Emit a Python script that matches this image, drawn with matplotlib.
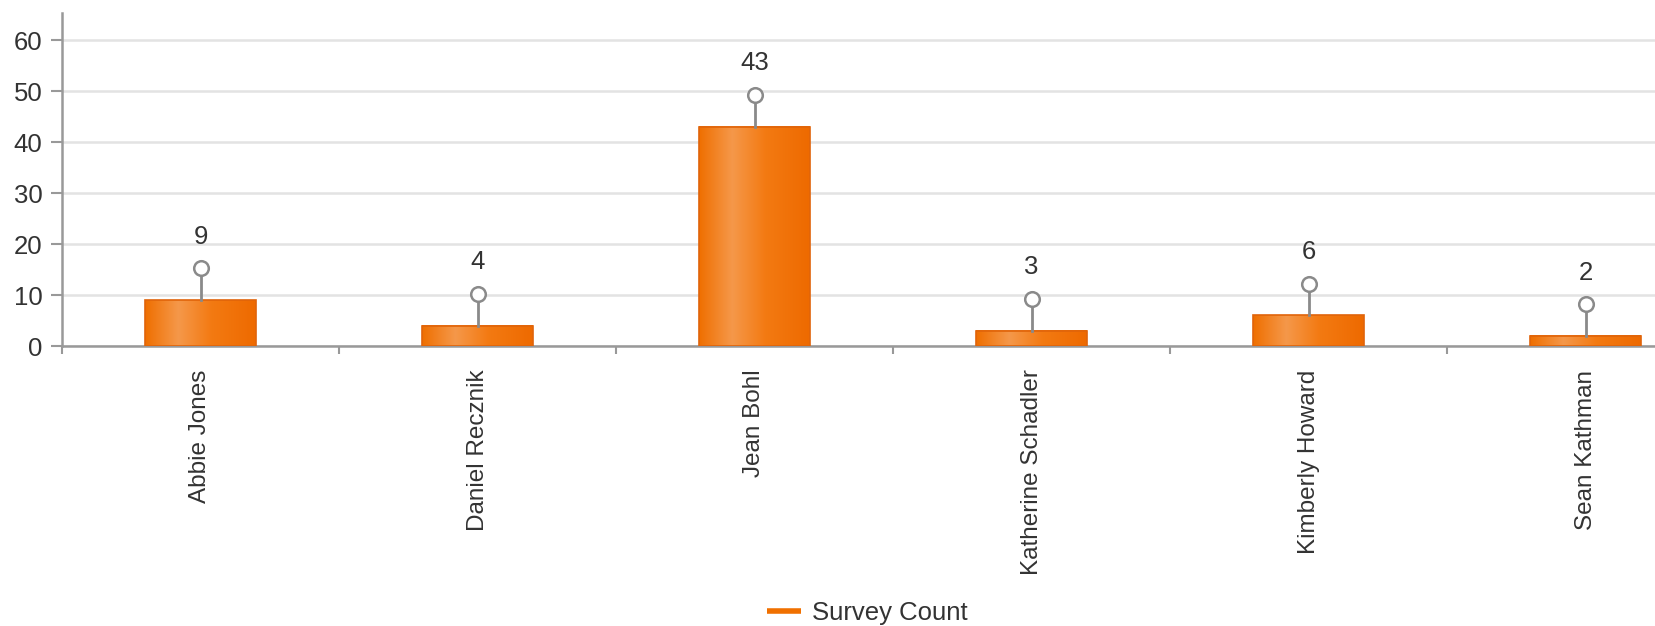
import matplotlib
matplotlib.use("Agg")
import matplotlib.pyplot as plt
import numpy as np
from matplotlib.colors import LinearSegmentedColormap
from matplotlib.lines import Line2D

names = ["Abbie Jones", "Daniel Recznik", "Jean Bohl", "Katherine Schadler",
         "Kimberly Howard", "Sean Kathman"]
counts = [9, 4, 43, 3, 6, 2]
series_name = "Survey Count"

plt.rcParams['font.family'] = ['Liberation Sans', 'DejaVu Sans']

W, H = 1656, 626
fig = plt.figure(figsize=(W / 100, H / 100), dpi=100)
x0, y0, ytop = 62, 346, 13
cat_w = 277
ax = fig.add_axes([x0 / W, (H - y0) / H, 1 - x0 / W, (y0 - ytop) / H])

xmax = -0.5 + (W - x0) / cat_w

grad = LinearSegmentedColormap.from_list(
    "g", [(0.0, "#EF6F00"), (0.3, "#F5984A"), (0.6, "#F37A12"), (1.0, "#EE6A00")])
gimg = np.linspace(0, 1, 256).reshape(1, -1)
bw = 0.4
for i, v in enumerate(counts):
    ax.imshow(gimg, cmap=grad, aspect="auto", extent=[i - bw / 2, i + bw / 2, 0, v],
              zorder=3, interpolation="bilinear")
    ax.add_patch(plt.Rectangle((i - bw / 2, 0), bw, v, fill=False,
                               edgecolor="#E0640A", lw=1.2, zorder=4))

offset_c = 6.2
offset_t = 12.4
for i, v in enumerate(counts):
    ax.plot([i, i], [v, v + offset_c], color="#8A8A8A", lw=2, zorder=5)
    ax.plot(i, v + offset_c, marker="o", ms=10.5, mfc="white", mec="#8A8A8A",
            mew=1.8, zorder=6)
    ax.text(i, v + offset_t, str(v), ha="center", va="center", fontsize=18.5,
            color="#333333", zorder=6)

ax.set_yticks([0, 10, 20, 30, 40, 50, 60])
ax.yaxis.grid(True, color="#E3E3E3", lw=1.8, zorder=0)
ax.set_axisbelow(True)
ax.tick_params(axis="y", length=8, width=1.5, color="#999999", labelsize=18.5,
               labelcolor="#333333", pad=6)

ax.set_xticks(range(len(names)))
ax.set_xticklabels(names, rotation=90, fontsize=17.5, color="#333333")
ax.tick_params(axis="x", which="major", length=0, pad=17)
ax.set_xticks(np.arange(-0.5, len(names), 1.0), minor=True)
ax.tick_params(axis="x", which="minor", length=6, width=1.5, color="#999999")

ax.set_xlim(-0.5, xmax)
ax.set_ylim(0, 65.3)

for s in ["top", "right"]:
    ax.spines[s].set_visible(False)
for s in ["left", "bottom"]:
    ax.spines[s].set_color("#999999")
    ax.spines[s].set_linewidth(1.8)
ax.spines["left"].set_zorder(7)

handle = Line2D([], [], color="#F07000", lw=4, solid_capstyle="butt")
fig.legend([handle], [series_name], loc="center", bbox_to_anchor=(867 / W, 1 - 613 / H),
           frameon=False, fontsize=18.5, handlelength=1.35, handletextpad=0.4,
           labelcolor="#333333")

fig.savefig("out.png", dpi=100, facecolor="white")
